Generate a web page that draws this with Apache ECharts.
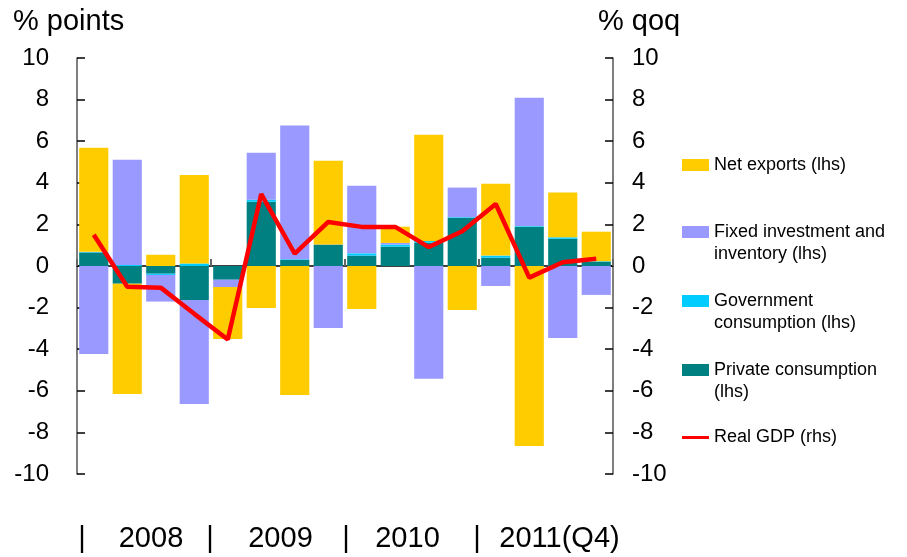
<!DOCTYPE html>
<html>
<head>
<meta charset="utf-8">
<script src="https://cdn.jsdelivr.net/npm/echarts@6/dist/echarts.min.js"></script>
<style>
html,body{margin:0;padding:0;background:#fff;}
#chart{width:907px;height:557px;}
</style>
</head>
<body>
<div id="chart"></div>
<script>
var categories = ['2008Q1','2008Q2','2008Q3','2008Q4','2009Q1','2009Q2','2009Q3','2009Q4',
                  '2010Q1','2010Q2','2010Q3','2010Q4','2011Q1','2011Q2','2011Q3','2011Q4'];
var privateConsumption = [0.65, -0.85, -0.37, -1.63, -0.66, 3.09, 0.30, 1.03, 0.50, 0.93, 1.12, 2.32, 0.40, 1.89, 1.31, 0.21];
var governmentConsumption = [0.03, 0.05, -0.06, 0.12, 0.00, 0.10, 0.03, 0.00, 0.11, 0.10, 0.08, 0.03, 0.10, 0.03, 0.07, 0.02];
var fixedInvestment = [-4.23, 5.06, -1.28, -5.00, -0.35, 2.26, 6.42, -2.98, 3.25, 0.08, -5.42, 1.42, -0.96, 6.17, -3.46, -1.39];
var netExports = [5.00, -5.30, 0.54, 4.26, -2.50, -2.02, -6.20, 4.03, -2.07, 0.78, 5.11, -2.12, 3.46, -8.65, 2.15, 1.42];
var realGDP = [1.50, -1.00, -1.04, -2.30, -3.53, 3.46, 0.59, 2.12, 1.88, 1.88, 0.91, 1.67, 2.98, -0.56, 0.18, 0.35];
var yTicks = {min: -10, max: 10, interval: 2};
var yearLabels = ['2008', '2009', '2010', '2011(Q4)'];

var FONT = 'Liberation Sans, Arial, sans-serif';
var names = {
  ne: 'Net exports (lhs)',
  fi: 'Fixed investment and\ninventory (lhs)',
  gc: 'Government\nconsumption (lhs)',
  pc: 'Private consumption\n(lhs)',
  gdp: 'Real GDP (rhs)'
};
var legendText = {fontSize: 18, lineHeight: 22, color: '#000', fontFamily: FONT};
function mkLegend(name, top, twoLine, isLine) {
  var l = {
    data: [name], left: 682, top: top, orient: 'vertical', padding: 0,
    itemWidth: 27, itemHeight: 12, textStyle: legendText, selectedMode: false,
    icon: 'rect'
  };
  if (twoLine) { l.itemHeight = 34; l.icon = 'path://M0,0H27V12H0Z M0,34L0.01,34'; }
  if (isLine) { l.itemHeight = 3; l.icon = 'rect'; }
  return l;
}

var chart = echarts.init(document.getElementById('chart'), null, {renderer: 'canvas'});
var axisLabelStyle = {fontSize: 24, color: '#000', fontFamily: FONT};

var yearX = [151, 280.5, 407.5, 559.5];
var barX = [82, 210, 346, 477];
var graphics = [
  {type: 'text', x: 13, y: 22, style: {text: '% points', fontSize: 29, fontFamily: FONT, fill: '#000', verticalAlign: 'middle'}},
  {type: 'text', x: 598, y: 22, style: {text: '% qoq', fontSize: 29, fontFamily: FONT, fill: '#000', verticalAlign: 'middle'}}
];
yearLabels.forEach(function (t, i) {
  graphics.push({type: 'text', x: yearX[i], y: 539, style: {text: t, fontSize: 29, fontFamily: FONT, fill: '#000', align: 'center', verticalAlign: 'middle'}});
});
barX.forEach(function (x) {
  graphics.push({type: 'text', x: x, y: 539, style: {text: '|', fontSize: 29, fontFamily: FONT, fill: '#000', align: 'center', verticalAlign: 'middle'}});
});

var barCommon = {type: 'bar', stack: 'gdp', barCategoryGap: '13%', yAxisIndex: 0};

chart.setOption({
  animation: false,
  backgroundColor: '#fff',
  grid: {left: 77, right: 294, top: 58, bottom: 83},
  legend: [
    mkLegend(names.ne, 154, false, false),
    mkLegend(names.fi, 221, true, false),
    mkLegend(names.gc, 290, true, false),
    mkLegend(names.pc, 359, true, false),
    mkLegend(names.gdp, 426.5, false, true)
  ],
  xAxis: {
    type: 'category', data: categories,
    axisLine: {onZero: true, lineStyle: {color: '#000', width: 1.5}},
    axisTick: {show: true, inside: true, length: 7, alignWithLabel: false,
      interval: function (i) { return i % 4 === 0; },
      lineStyle: {color: '#666', width: 2}},
    axisLabel: {show: false},
    splitLine: {show: false}
  },
  yAxis: [
    {type: 'value', min: yTicks.min, max: yTicks.max, interval: yTicks.interval, position: 'left',
      axisLine: {show: true, onZero: false, lineStyle: {color: '#555', width: 1.5}},
      axisTick: {show: true, inside: true, length: 8, lineStyle: {color: '#000', width: 1.5}},
      axisLabel: Object.assign({margin: 28}, axisLabelStyle),
      splitLine: {show: false}},
    {type: 'value', min: yTicks.min, max: yTicks.max, interval: yTicks.interval, position: 'right',
      axisLine: {show: true, onZero: false, lineStyle: {color: '#555', width: 1.5}},
      axisTick: {show: true, inside: true, length: 8, lineStyle: {color: '#000', width: 1.5}},
      axisLabel: Object.assign({margin: 19}, axisLabelStyle),
      splitLine: {show: false}}
  ],
  series: [
    Object.assign({name: names.pc, data: privateConsumption, itemStyle: {color: '#008080'}}, barCommon),
    Object.assign({name: names.gc, data: governmentConsumption, itemStyle: {color: '#00CCFF'}}, barCommon),
    Object.assign({name: names.fi, data: fixedInvestment, itemStyle: {color: '#9999FF'}}, barCommon),
    Object.assign({name: names.ne, data: netExports, itemStyle: {color: '#FFCC00'}}, barCommon),
    {name: names.gdp, type: 'line', yAxisIndex: 1, data: realGDP, showSymbol: false, symbol: 'none',
      itemStyle: {color: '#FF0000'}, lineStyle: {color: '#FF0000', width: 4.5}, z: 10}
  ],
  graphic: graphics
});
</script>
</body>
</html>
